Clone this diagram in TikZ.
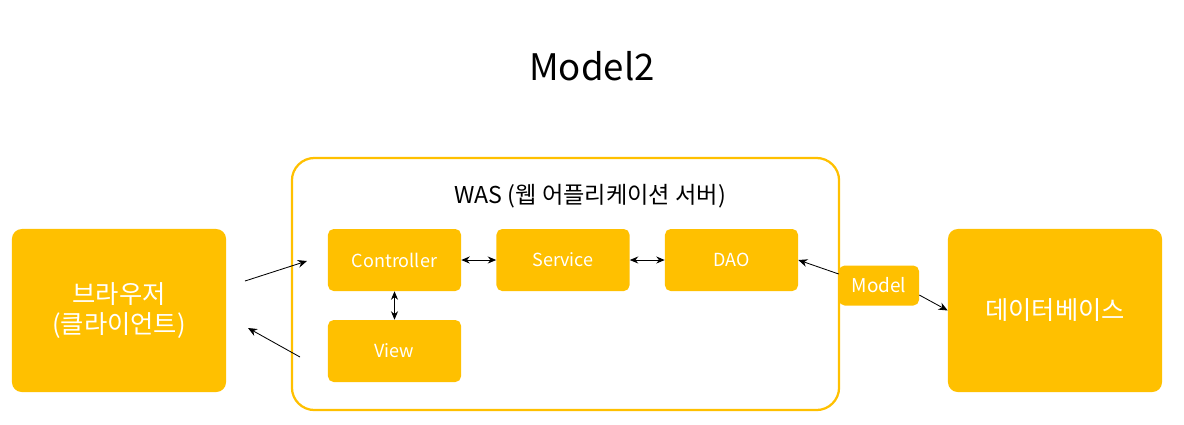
\documentclass[tikz,border=0pt]{standalone}
\usepackage{fontspec}
\setmainfont{Noto Sans CJK KR}
\usetikzlibrary{arrows.meta}

\definecolor{wasyellow}{HTML}{FFC000}

\tikzset{
  block/.style={fill=wasyellow,rounded corners=4pt,inner sep=0pt,
    minimum width=3.325cm,minimum height=1.55cm,text=white,font=\fontsize{12.8}{15}\selectfont},
  bigblock/.style={block,rounded corners=7pt,minimum width=5.35cm,
    minimum height=4.075cm,align=center,font=\fontsize{18}{22}\selectfont},
  link/.style={{Stealth[length=6pt,width=5pt]}-{Stealth[length=6pt,width=5pt]},line width=0.6pt},
  flow/.style={-{Stealth[length=6.5pt,width=5.5pt]},line width=0.6pt}
}

\begin{document}
\begin{tikzpicture}[x=0.025cm,y=-0.025cm]
  \useasboundingbox (0,0) rectangle (1184,424);
  % Title
  \node[font=\fontsize{26}{30}\selectfont] (title) at (592,66) {Model2};
  % WAS frame
  \node[draw=wasyellow,line width=1.6pt,rounded corners=16pt,inner sep=0pt,
    minimum width=13.675cm,minimum height=6.3cm] (was) at (565.5,284) {};
  \node[font=\fontsize{16.5}{20}\selectfont] (waslabel) at (590,196) {WAS (웹 어플리케이션 서버)};
  % Outside blocks
  \node[bigblock] (browser) at (119,310.5) {브라우저\\(클라이언트)};
  \node[bigblock] (db) at (1055,310.5) {데이터베이스};
  % Inner blocks
  \node[block] (controller) at (394.5,260) {Controller};
  \node[block] (service) at (563,260) {Service};
  \node[block] (dao) at (731.5,260) {DAO};
  \node[block] (view) at (394.5,351) {View};
  \node[block,minimum width=2cm,minimum height=1cm,font=\fontsize{13.5}{16}\selectfont]
    (model) at (879,285.5) {Model};
  % Request and response
  \coordinate (req1) at (245,281);
  \coordinate (req2) at (307,261);
  \coordinate (res1) at (300,357);
  \coordinate (res2) at (248,328);
  \draw[flow] (req1) -- (req2);
  \draw[flow] (res1) -- (res2);
  % Links
  \draw[link] (controller.east) -- (service.west);
  \draw[link] (service.east) -- (dao.west);
  \draw[link] (controller.south) -- (view.north);
  \draw[flow] (model.west |- 0,274) -- (dao.east);
  \draw[flow] (model.east |- 0,295) -- (db.west);
\end{tikzpicture}
\end{document}
